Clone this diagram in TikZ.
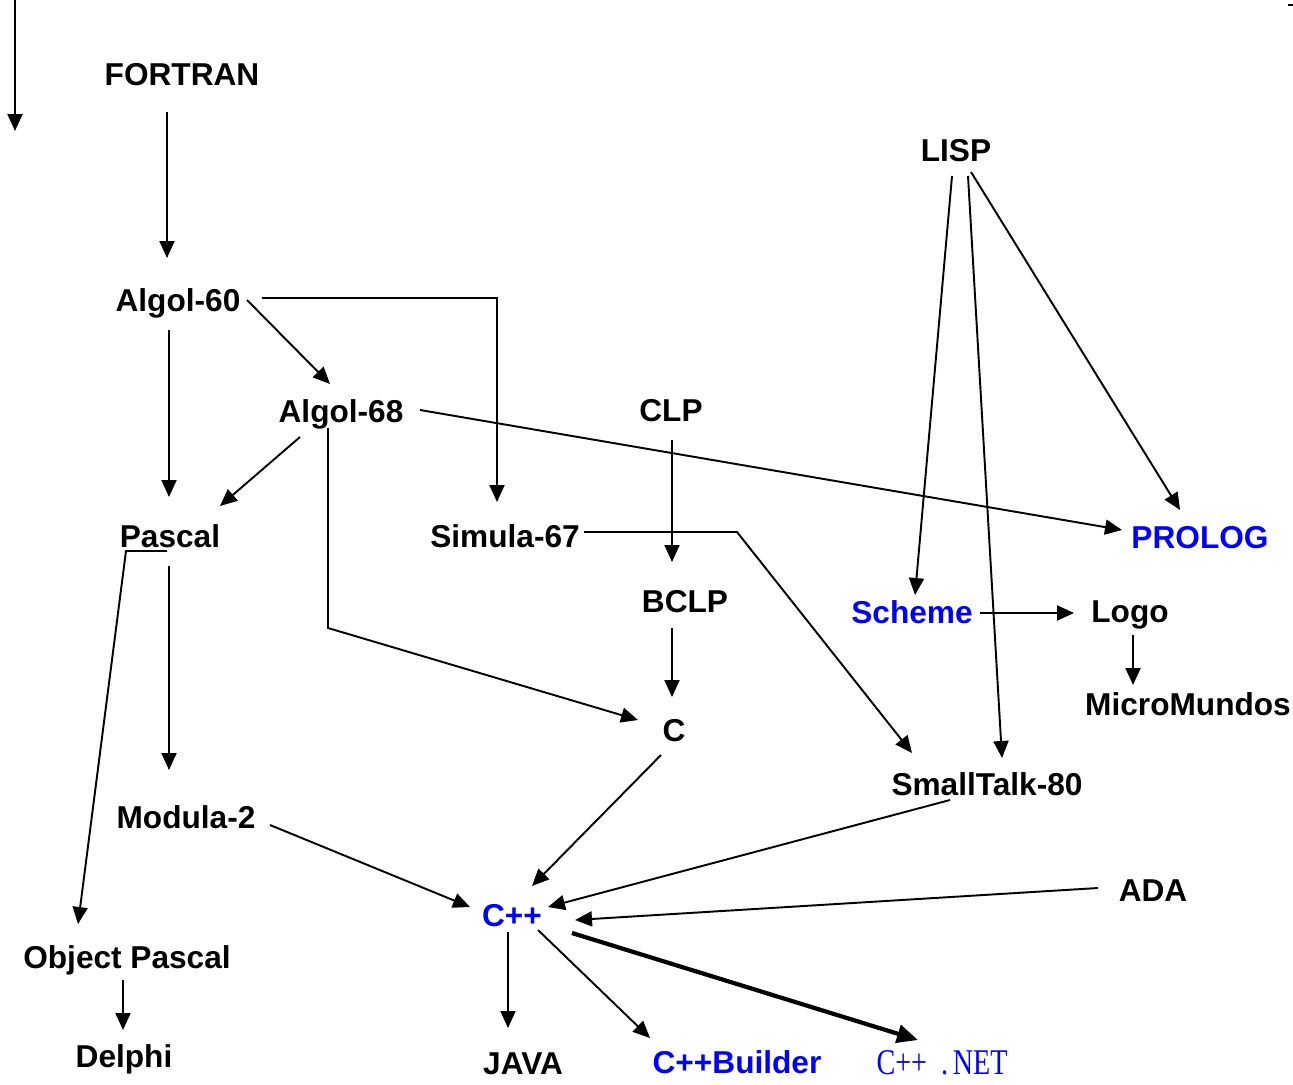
\documentclass[tikz,border=0pt]{standalone}
\usepackage{fontspec}
\usepackage{graphicx}
\setmainfont{Liberation Sans}
\newfontfamily\netfont{Liberation Serif}
\usetikzlibrary{arrows.meta,calc}
\definecolor{lblue}{RGB}{0,0,255}
\tikzset{
  lbl/.style={font=\fontsize{18}{20}\selectfont\bfseries, inner sep=0pt, text height=12.9pt, text depth=0pt, anchor=center},
  blbl/.style={lbl, text=lblue},
  arr/.style={line width=1.1pt, -{Triangle[length=0.34cm,width=0.3cm]}},
  thickarr/.style={line width=2.4pt, -{Triangle[length=0.42cm,width=0.36cm]}},
}
\begin{document}
\begin{tikzpicture}[x=0.02cm,y=-0.02cm]
\useasboundingbox (0,0) rectangle (1293,1084);
% nodes
\node[lbl] (fortran) at (182,74) {FORTRAN};
\node[lbl] (a60) at (178,300) {Algol-60};
\node[lbl] (a68) at (341,411) {Algol-68};
\node[lbl] (clp) at (671,410) {CLP};
\node[lbl] (lisp) at (956,150) {LISP};
\node[lbl] (pascal) at (170,536) {Pascal};
\node[lbl] (sim) at (505,536) {Simula-67};
\node[blbl] (prolog) at (1200,537) {PROLOG};
\node[lbl] (bclp) at (685,601) {BCLP};
\node[blbl] (scheme) at (912,612) {Scheme};
\node[lbl] (logo) at (1130,611) {Logo};
\node[lbl] (micro) at (1188,704) {MicroMundos};
\node[lbl] (c) at (674,730) {C};
\node[lbl] (st) at (987,784) {SmallTalk-80};
\node[lbl] (modula) at (186,817) {Modula-2};
\node[lbl] (ada) at (1153,890) {ADA};
\node[blbl] (cpp) at (512,915) {C++};
\node[lbl] (obj) at (127,957) {Object Pascal};
\node[lbl] (delphi) at (124,1056) {Delphi};
\node[lbl] (java) at (523,1063) {JAVA};
\node[blbl] (builder) at (737,1062) {C++Builder};
\node[inner sep=0pt, text=lblue, font=\netfont\fontsize{20}{22}\selectfont, text height=13.5pt, text depth=0pt] (net) at (942,1063) {\scalebox{0.8}[1.03]{C++\ \ .\,NET}};
% free arrow top-left and tick top-right
\coordinate (tl0) at (15,0);
\coordinate (tl1) at (15,131);
\draw[arr] (tl0) -- (tl1);
\coordinate (tr0) at (1288,5);
\coordinate (tr1) at (1293,5);
\draw[line width=1.5pt] (tr0) -- (tr1);
% connectors
\draw[arr] ($(fortran)+(-15,38)$) -- ($(a60)+(-11,-42)$);
\draw[arr] ($(a60)+(69,0)$) -- ($(a68)+(-11,-27)$);
\draw[arr] ($(a60)+(84,-2)$) -| ($(sim)+(-8,-34)$);
\draw[arr] ($(a60)+(-9,30)$) -- ($(pascal)+(-1,-39)$);
\draw[arr] ($(a68)+(-41,26)$) -- ($(pascal)+(50,-30)$);
\draw[arr] ($(a68)+(79,-1)$) -- ($(prolog)+(-78,-7)$);
\draw[arr] ($(a68)+(-13,17)$) -- ($(a68)+(-13,217)$) -- ($(c)+(-36,-10)$);
\draw[arr] ($(clp)+(1,30)$) -- ($(bclp)+(-13,-39)$);
\draw[arr] ($(sim)+(79,-4)$) -- ($(sim)+(232,-4)$) -- ($(st)+(-75,-31)$);
\draw[arr] ($(pascal)+(-3,15)$) -- ($(pascal)+(-44,15)$) -- ($(obj)+(-49,-33)$);
\draw[arr] ($(pascal)+(-1,30)$) -- ($(modula)+(-17,-47)$);
\draw[arr] ($(bclp)+(-13,27)$) -- ($(c)+(-2,-33)$);
\draw[arr] ($(lisp)+(-4,26)$) -- ($(scheme)+(3,-17)$);
\draw[arr] ($(lisp)+(12,26)$) -- ($(st)+(15,-26)$);
\draw[arr] ($(lisp)+(15,22)$) -- ($(prolog)+(-20,-27)$);
\draw[arr] ($(scheme)+(68,1)$) -- ($(logo)+(-56,2)$);
\draw[arr] ($(logo)+(3,24)$) -- ($(micro)+(-55,-19)$);
\draw[arr] ($(c)+(-13,25)$) -- ($(cpp)+(20,-29)$);
\draw[arr] ($(st)+(-37,16)$) -- ($(cpp)+(36,-8)$);
\draw[arr] ($(ada)+(-55,-2)$) -- ($(cpp)+(63,5)$);
\draw[arr] ($(modula)+(84,8)$) -- ($(cpp)+(-42,-8)$);
\draw[arr] ($(cpp)+(-4,17)$) -- ($(java)+(-15,-35)$);
\draw[arr] ($(cpp)+(26,15)$) -- ($(builder)+(-87,-24)$);
\draw[thickarr] ($(cpp)+(60,18)$) -- ($(net)+(-24,-23)$);
\draw[arr] ($(obj)+(-4,23)$) -- ($(delphi)+(-1,-26)$);
\end{tikzpicture}
\end{document}
